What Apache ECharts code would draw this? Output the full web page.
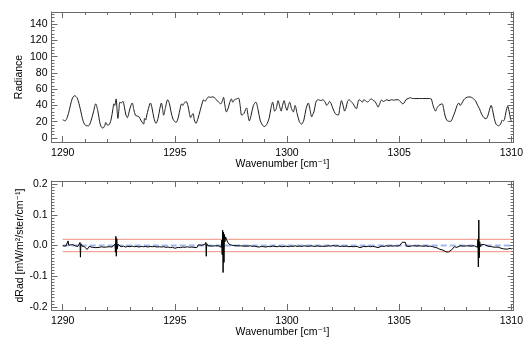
<!DOCTYPE html>
<html>
<head>
<meta charset="utf-8">
<script src="https://cdn.jsdelivr.net/npm/echarts@6/dist/echarts.min.js"></script>
<style>
  html, body { margin: 0; padding: 0; background: #fff; }
  #chart { width: 526px; height: 347px; }
</style>
</head>
<body>
<div id="chart"></div>
<script>
// ---- Radiance spectrum (upper panel) ----
const topWavenumber = [
  1290.00,1290.10,1290.20,1290.30,1290.42,1290.53,1290.65,1290.78,1290.92,1291.05,
  1291.15,1291.25,1291.38,1291.47,1291.56,1291.68,1291.79,1291.87,1291.92,1291.98,
  1292.05,1292.15,1292.24,1292.28,1292.32,1292.38,1292.43,1292.46,1292.51,1292.55,
  1292.61,1292.68,1292.75,1292.82,1292.88,1292.96,1293.04,1293.10,1293.17,1293.24,
  1293.32,1293.40,1293.48,1293.55,1293.61,1293.65,1293.70,1293.74,1293.82,1293.91,
  1293.98,1294.07,1294.16,1294.25,1294.33,1294.40,1294.45,1294.50,1294.57,1294.68,
  1294.76,1294.83,1294.92,1295.05,1295.15,1295.25,1295.30,1295.35,1295.42,1295.50,
  1295.58,1295.65,1295.70,1295.76,1295.81,1295.87,1295.94,1296.03,1296.13,1296.22,
  1296.28,1296.35,1296.42,1296.50,1296.58,1296.66,1296.75,1296.85,1296.95,1297.05,
  1297.12,1297.17,1297.22,1297.30,1297.38,1297.45,1297.52,1297.58,1297.66,1297.75,
  1297.84,1297.91,1297.98,1298.08,1298.15,1298.20,1298.26,1298.32,1298.40,1298.50,
  1298.61,1298.70,1298.80,1298.90,1298.98,1299.05,1299.12,1299.20,1299.28,1299.36,
  1299.45,1299.52,1299.60,1299.68,1299.74,1299.80,1299.87,1299.94,1300.00,1300.06,
  1300.12,1300.20,1300.28,1300.36,1300.45,1300.55,1300.65,1300.75,1300.85,1300.95,
  1301.03,1301.10,1301.15,1301.20,1301.27,1301.32,1301.40,1301.50,1301.60,1301.70,
  1301.77,1301.83,1301.90,1301.97,1302.05,1302.15,1302.28,1302.36,1302.43,1302.50,
  1302.57,1302.64,1302.70,1302.77,1302.85,1302.95,1303.05,1303.10,1303.15,1303.21,
  1303.28,1303.36,1303.42,1303.50,1303.58,1303.66,1303.77,1303.85,1303.92,1304.00,
  1304.06,1304.13,1304.21,1304.30,1304.38,1304.45,1304.55,1304.65,1304.75,1304.85,
  1304.95,1305.05,1305.15,1305.22,1305.30,1305.40,1305.50,1305.60,1305.75,1305.90,
  1306.05,1306.20,1306.35,1306.43,1306.50,1306.56,1306.62,1306.67,1306.74,1306.82,
  1306.92,1306.98,1307.05,1307.12,1307.20,1307.30,1307.40,1307.50,1307.58,1307.66,
  1307.72,1307.78,1307.88,1307.98,1308.10,1308.22,1308.32,1308.40,1308.50,1308.58,
  1308.68,1308.78,1308.87,1308.95,1309.02,1309.10,1309.16,1309.24,1309.32,1309.43,
  1309.52,1309.60,1309.65,1309.70,1309.76,1309.84,1309.90,1309.96,1310.00
];
const radiance = [
  22.5,21,25,35,48,52,49,36,20,15,
  15,20,33,42,34,16,12,15,19,16,
  16,22,36,42,40,48,32,24,36,44,
  43,45,38,28,25,32,40,43,35,28,
  27,26,22,19,17,24,22,27,36,43,
  37,24,18,24,36,43,36,28,36,47,
  42,32,23,19,25,38,42,40,43,45,
  40,30,25,28,30,22,18,24,34,43,
  47,45,48,50.5,50,50.5,50,47,44,42,
  46,50,42,32,37,44,48,44,47,48,
  49,40,28,30,35,37,28,21,28,40,
  44,36,22,16,14,15,18,24,36,44,
  33,36,46,38,33,40,46,38,34,40,
  44,36,32,40,30,20,17,22,36,43,
  34,26,29,32,42,46,47,46,47,44,
  40,42,45,42,36,30,28,38,46,40,
  33,38,45,47,45,42,37,36,42,47,
  46,44,47,46,44,46,48,46,45,41,
  38,42,46.5,45,46,47,46,47,46.5,47,
  47,45,42,43,47,48.5,49.5,48.5,48.5,48.5,
  48.5,48.5,48.5,48,41,36,33,36,39,41,
  42,36,27,22,20.5,20.5,26,33,40,43,
  40,42,47,49.5,50.5,50,48,46,40,36,
  29,25,23.5,27,34,40,35,24,17,15,
  17,22,21,23,32,39,33,24,20
];

// ---- Radiance difference (lower panel) ----
const diffWavenumber = [
  1290.00,1290.08,1290.14,1290.20,1290.24,1290.27,1290.35,1290.45,1290.55,1290.62,
  1290.68,1290.74,1290.77,1290.79,1290.81,1290.86,1290.95,1291.03,1291.09,1291.13,
  1291.18,1291.25,1291.32,1291.40,1291.48,1291.56,1291.65,1291.74,1291.83,1291.92,
  1292.00,1292.10,1292.20,1292.28,1292.33,1292.35,1292.37,1292.39,1292.41,1292.43,
  1292.46,1292.52,1292.60,1292.70,1292.80,1292.90,1293.00,1293.10,1293.20,1293.30,
  1293.40,1293.50,1293.60,1293.70,1293.80,1293.90,1294.00,1294.10,1294.20,1294.30,
  1294.40,1294.50,1294.60,1294.70,1294.80,1294.90,1295.00,1295.08,1295.15,1295.25,
  1295.35,1295.45,1295.55,1295.65,1295.75,1295.85,1295.92,1295.98,1296.04,1296.10,
  1296.18,1296.26,1296.33,1296.38,1296.40,1296.42,1296.48,1296.56,1296.64,1296.72,
  1296.80,1296.88,1296.95,1297.02,1297.07,1297.09,1297.11,1297.13,1297.15,1297.17,
  1297.19,1297.21,1297.23,1297.26,1297.30,1297.36,1297.44,1297.52,1297.60,1297.68,
  1297.76,1297.84,1297.92,1298.00,1298.08,1298.16,1298.26,1298.36,1298.46,1298.56,
  1298.66,1298.76,1298.86,1298.96,1299.06,1299.16,1299.26,1299.36,1299.46,1299.56,
  1299.66,1299.76,1299.86,1299.96,1300.06,1300.16,1300.26,1300.36,1300.46,1300.56,
  1300.66,1300.76,1300.86,1300.96,1301.06,1301.16,1301.26,1301.36,1301.46,1301.56,
  1301.66,1301.76,1301.86,1301.96,1302.06,1302.16,1302.26,1302.36,1302.46,1302.56,
  1302.66,1302.76,1302.86,1302.96,1303.06,1303.16,1303.25,1303.32,1303.42,1303.52,
  1303.62,1303.72,1303.82,1303.92,1304.00,1304.06,1304.12,1304.22,1304.32,1304.42,
  1304.52,1304.62,1304.72,1304.82,1304.92,1305.02,1305.10,1305.15,1305.22,1305.28,
  1305.32,1305.38,1305.44,1305.50,1305.60,1305.70,1305.80,1305.90,1306.00,1306.10,
  1306.20,1306.30,1306.40,1306.50,1306.60,1306.70,1306.80,1306.88,1306.95,1307.02,
  1307.10,1307.20,1307.28,1307.34,1307.40,1307.46,1307.52,1307.58,1307.64,1307.72,
  1307.80,1307.88,1307.96,1308.04,1308.12,1308.20,1308.28,1308.36,1308.44,1308.49,
  1308.51,1308.53,1308.55,1308.57,1308.59,1308.62,1308.66,1308.72,1308.80,1308.88,
  1308.96,1309.04,1309.12,1309.20,1309.30,1309.40,1309.50,1309.58,1309.66,1309.74,
  1309.82,1309.88,1309.94,1310.00
];
const dRad = [
  -0.001,0.002,-0.002,0.003,0.015,0.001,-0.002,0.003,-0.001,0.004,
  -0.003,0.002,0.010,-0.038,0.006,-0.002,-0.003,-0.005,-0.013,-0.011,
  -0.003,-0.002,-0.006,-0.003,-0.007,-0.004,-0.006,-0.004,-0.006,-0.005,
  -0.006,-0.004,-0.005,-0.003,0.004,-0.022,0.030,-0.035,0.022,-0.012,
  0.004,-0.002,-0.004,-0.002,-0.005,-0.003,-0.004,-0.002,-0.004,-0.003,
  -0.005,-0.003,-0.004,-0.003,-0.005,-0.003,-0.004,-0.003,-0.005,-0.004,
  -0.005,-0.004,-0.006,-0.005,-0.007,-0.006,-0.009,-0.008,-0.006,-0.007,
  -0.005,-0.006,-0.004,-0.006,-0.005,-0.006,-0.003,-0.007,0.002,-0.002,
  0.001,-0.002,0.003,0.010,-0.035,0.006,-0.001,0.001,-0.002,0.000,
  -0.001,0.002,-0.001,0.002,-0.006,0.018,-0.030,0.050,-0.088,0.044,
  -0.055,0.036,0.012,0.028,0.020,0.010,0.003,-0.001,0.000,-0.002,
  -0.001,0.002,-0.001,0.001,-0.002,0.000,-0.002,-0.001,-0.003,-0.002,
  -0.004,-0.005,-0.003,-0.004,-0.005,-0.003,-0.004,-0.002,-0.003,-0.004,
  -0.002,-0.004,-0.003,-0.002,-0.004,-0.002,-0.003,-0.001,-0.003,-0.002,
  -0.003,-0.001,-0.002,-0.003,-0.001,-0.002,-0.003,-0.001,-0.003,-0.002,
  -0.003,-0.002,-0.001,-0.002,0.000,-0.002,-0.001,-0.003,-0.002,-0.003,
  -0.002,-0.004,-0.003,-0.004,-0.003,-0.004,-0.007,-0.004,-0.003,-0.004,
  -0.002,-0.004,-0.003,-0.004,-0.003,-0.007,-0.004,-0.002,-0.003,-0.001,
  -0.002,-0.001,-0.002,-0.001,-0.002,0.000,0.002,0.011,0.006,0.010,
  -0.002,0.004,-0.003,0.002,-0.001,-0.001,-0.002,-0.001,-0.002,-0.002,
  -0.001,-0.003,-0.002,-0.004,-0.006,-0.008,-0.012,-0.010,-0.015,-0.020,
  -0.021,-0.021,-0.020,-0.014,-0.008,-0.004,-0.009,-0.006,-0.003,-0.001,
  0.000,-0.002,0.001,-0.001,0.000,-0.002,0.000,-0.001,0.001,-0.006,
  0.020,-0.070,0.083,-0.040,0.012,-0.004,0.003,0.001,0.003,0.001,
  -0.002,-0.001,-0.004,-0.003,-0.006,-0.005,-0.008,-0.010,-0.011,-0.008,
  -0.012,-0.006,-0.009,-0.012
];

// Reference levels drawn across the lower panel
const limitWavenumber = [1290, 1310];
const upperLimit = 0.02;
const lowerLimit = -0.02;
const zeroLevel = 0;

// Tick positions
const wnMajorTicks = [1290, 1295, 1300, 1305, 1310];
const wnMinorTicks = [1290,1291,1292,1293,1294,1295,1296,1297,1298,1299,1300,
                      1301,1302,1303,1304,1305,1306,1307,1308,1309,1310];
const radMajorTicks = [0, 20, 40, 60, 80, 100, 120, 140];
const radMinorTicks = [0,4,8,12,16,20,24,28,32,36,40,44,48,52,56,60,64,68,72,76,80,
                       84,88,92,96,100,104,108,112,116,120,124,128,132,136,140,144,148,152];
const dRadMajorTicks = [-0.2, -0.1, 0.0, 0.1, 0.2];
const dRadMinorTicks = [-0.2,-0.19,-0.18,-0.17,-0.16,-0.15,-0.14,-0.13,-0.12,-0.11,
                        -0.1,-0.09,-0.08,-0.07,-0.06,-0.05,-0.04,-0.03,-0.02,-0.01,
                        0,0.01,0.02,0.03,0.04,0.05,0.06,0.07,0.08,0.09,
                        0.1,0.11,0.12,0.13,0.14,0.15,0.16,0.17,0.18,0.19,0.2];

const FONT = '"Liberation Sans", Arial, Helvetica, "DejaVu Sans", sans-serif';
const FRAME = '#6a6a6a';
const FS = 10.5;

// Builds the four sides of a boxed axis frame: labelled side with major and
// minor ticks, plus the opposite side carrying ticks only.
function frameAxes(dim, gridIndex, range, major, minor, opts) {
  const main = dim === 'x' ? 'bottom' : 'left';
  const opp = dim === 'x' ? 'top' : 'right';
  const base = {
    type: 'value', gridIndex, min: range[0], max: range[1],
    splitLine: { show: false }, minorTick: { show: false }
  };
  const tick = (vals, len) => ({
    show: true, inside: true, length: len, customValues: vals,
    lineStyle: { color: FRAME, width: 1 }
  });
  const line = { show: true, onZero: false, lineStyle: { color: FRAME, width: 1 } };
  const hidden = { show: false, onZero: false };
  return [
    Object.assign({}, base, {
      position: main, axisLine: line, axisTick: tick(major, 6),
      axisLabel: {
        show: true, customValues: major, color: '#000', fontFamily: FONT,
        fontSize: FS, margin: opts.margin, formatter: opts.fmt
      },
      name: opts.name, nameLocation: 'middle', nameGap: opts.nameGap,
      nameMoveOverlap: false,
      nameRotate: dim === 'y' ? 90 : 0,
      nameTextStyle: { color: '#000', fontFamily: FONT, fontSize: FS }
    }),
    Object.assign({}, base, {
      position: main, axisLine: hidden, axisTick: tick(minor, 3),
      axisLabel: { show: false }
    }),
    Object.assign({}, base, {
      position: opp, axisLine: line, axisTick: tick(major, 6),
      axisLabel: { show: false }
    }),
    Object.assign({}, base, {
      position: opp, axisLine: hidden, axisTick: tick(minor, 3),
      axisLabel: { show: false }
    })
  ];
}

const wnRange = [1289.5, 1310.1];
const xAxes = [].concat(
  frameAxes('x', 0, wnRange, wnMajorTicks, wnMinorTicks,
    { margin: 6, fmt: v => String(v), name: 'Wavenumber [cm\u207B\u00B9]', nameGap: 17 }),
  frameAxes('x', 1, wnRange, wnMajorTicks, wnMinorTicks,
    { margin: 6, fmt: v => String(v), name: 'Wavenumber [cm\u207B\u00B9]', nameGap: 17 })
);
const yAxes = [].concat(
  frameAxes('y', 0, [-5, 155], radMajorTicks, radMinorTicks,
    { margin: 4, fmt: v => String(v), name: 'Radiance', nameGap: 27 }),
  frameAxes('y', 1, [-0.21, 0.21], dRadMajorTicks, dRadMinorTicks,
    { margin: 4, fmt: v => Number(v).toFixed(1),
      name: 'dRad [mW/m\u00B2/ster/cm\u207B\u00B9]', nameGap: 26 })
);

const zip = (xs, ys) => xs.map((x, i) => [x, ys[i]]);
const flat = v => limitWavenumber.map(x => [x, v]);

const option = {
  animation: false,
  backgroundColor: '#ffffff',
  grid: [
    { left: 51.5, right: 12, top: 12, height: 130 },
    { left: 51.5, right: 12, top: 181, height: 129 }
  ],
  xAxis: xAxes,
  yAxis: yAxes,
  series: [
    {
      name: 'Radiance', type: 'line', xAxisIndex: 0, yAxisIndex: 0,
      data: zip(topWavenumber, radiance), showSymbol: false, smooth: 0.3,
      lineStyle: { color: '#1e1e1e', width: 1 }
    },
    {
      name: 'upper', type: 'line', xAxisIndex: 4, yAxisIndex: 4,
      data: flat(upperLimit), showSymbol: false,
      lineStyle: { color: '#f3a597', width: 1.2 }
    },
    {
      name: 'lower', type: 'line', xAxisIndex: 4, yAxisIndex: 4,
      data: flat(lowerLimit), showSymbol: false,
      lineStyle: { color: '#f3a597', width: 1.2 }
    },
    {
      name: 'zero', type: 'line', xAxisIndex: 4, yAxisIndex: 4,
      data: flat(zeroLevel), showSymbol: false,
      lineStyle: { color: '#9fb8ef', width: 2.2, type: [6, 3] }
    },
    {
      name: 'dRad', type: 'line', xAxisIndex: 4, yAxisIndex: 4,
      data: zip(diffWavenumber, dRad), showSymbol: false,
      lineStyle: { color: '#000000', width: 1 }
    }
  ]
};

const chart = echarts.init(document.getElementById('chart'), null, { renderer: 'canvas' });
chart.setOption(option);
</script>
</body>
</html>
